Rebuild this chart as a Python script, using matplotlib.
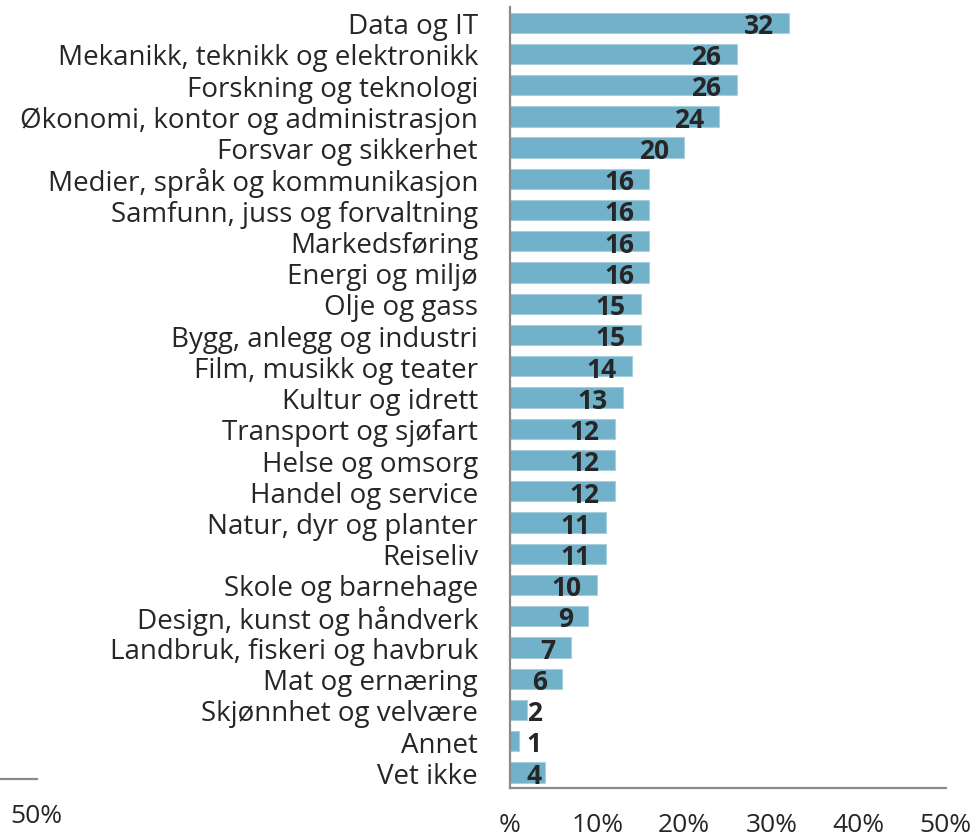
import matplotlib
matplotlib.use("Agg")
import matplotlib.pyplot as plt
from matplotlib.lines import Line2D

plt.rcParams['font.family'] = ['Open Sans', 'DejaVu Sans']

# data, top to bottom as in the chart
categories = [
    "Data og IT",
    "Mekanikk, teknikk og elektronikk",
    "Forskning og teknologi",
    "Økonomi, kontor og administrasjon",
    "Forsvar og sikkerhet",
    "Medier, språk og kommunikasjon",
    "Samfunn, juss og forvaltning",
    "Markedsføring",
    "Energi og miljø",
    "Olje og gass",
    "Bygg, anlegg og industri",
    "Film, musikk og teater",
    "Kultur og idrett",
    "Transport og sjøfart",
    "Helse og omsorg",
    "Handel og service",
    "Natur, dyr og planter",
    "Reiseliv",
    "Skole og barnehage",
    "Design, kunst og håndverk",
    "Landbruk, fiskeri og havbruk",
    "Mat og ernæring",
    "Skjønnhet og velvære",
    "Annet",
    "Vet ikke",
]
values = [32, 26, 26, 24, 20, 16, 16, 16, 16, 15, 15, 14, 13, 12, 12, 12,
          11, 11, 10, 9, 7, 6, 2, 1, 4]
xticks = [0, 10, 20, 30, 40, 50]
xtick_labels = ["%", "10%", "20%", "30%", "40%", "50%"]

bar_color = "#71B1C9"
spine_color = "#8A8A8A"
text_color = "#262626"

fig = plt.figure(figsize=(9.78, 8.37), dpi=100)
ax = fig.add_axes([0.5215, 0.0573, 0.4455, 0.9331])

ypos = list(range(len(categories)))
ax.barh(ypos, values, height=0.65, color=bar_color,
        edgecolor="#A8CFDE", linewidth=0.8)

ax.set_ylim(len(categories) - 0.5, -0.5)
ax.set_xlim(0, 50)

ax.set_yticks(ypos)
ax.set_yticklabels(categories, fontsize=20, color=text_color)
ax.set_xticks(xticks)
ax.set_xticklabels(xtick_labels, fontsize=19, color=text_color)
ax.tick_params(axis='y', length=0, pad=23)
ax.tick_params(axis='x', length=0, pad=17)

for s in ['top', 'right']:
    ax.spines[s].set_visible(False)
for s in ['left', 'bottom']:
    ax.spines[s].set_color(spine_color)
    ax.spines[s].set_linewidth(1.6)

# value labels: inside end of bar, small bars pushed out to a min position
for y, v in zip(ypos, values):
    if v >= 6:
        ax.annotate(str(v), xy=(v, y), xytext=(-11, -2), textcoords='offset points',
                    ha='right', va='center', fontsize=19, fontweight='bold',
                    color=text_color)
    else:
        ax.annotate(str(v), xy=(1.9, y), xytext=(0, -2), textcoords='offset points',
                    ha='left', va='center', fontsize=19, fontweight='bold',
                    color=text_color)

# leftover bits of a neighbouring chart at the left edge
fig.add_artist(Line2D([0, 37 / 978], [1 - 780 / 837, 1 - 780 / 837],
                      color=spine_color, linewidth=1.6))
fig.text(36 / 978, 1 - 817 / 837, "50%", fontsize=19, color=text_color,
         ha='center', va='center')

fig.savefig("out.png", dpi=100)
